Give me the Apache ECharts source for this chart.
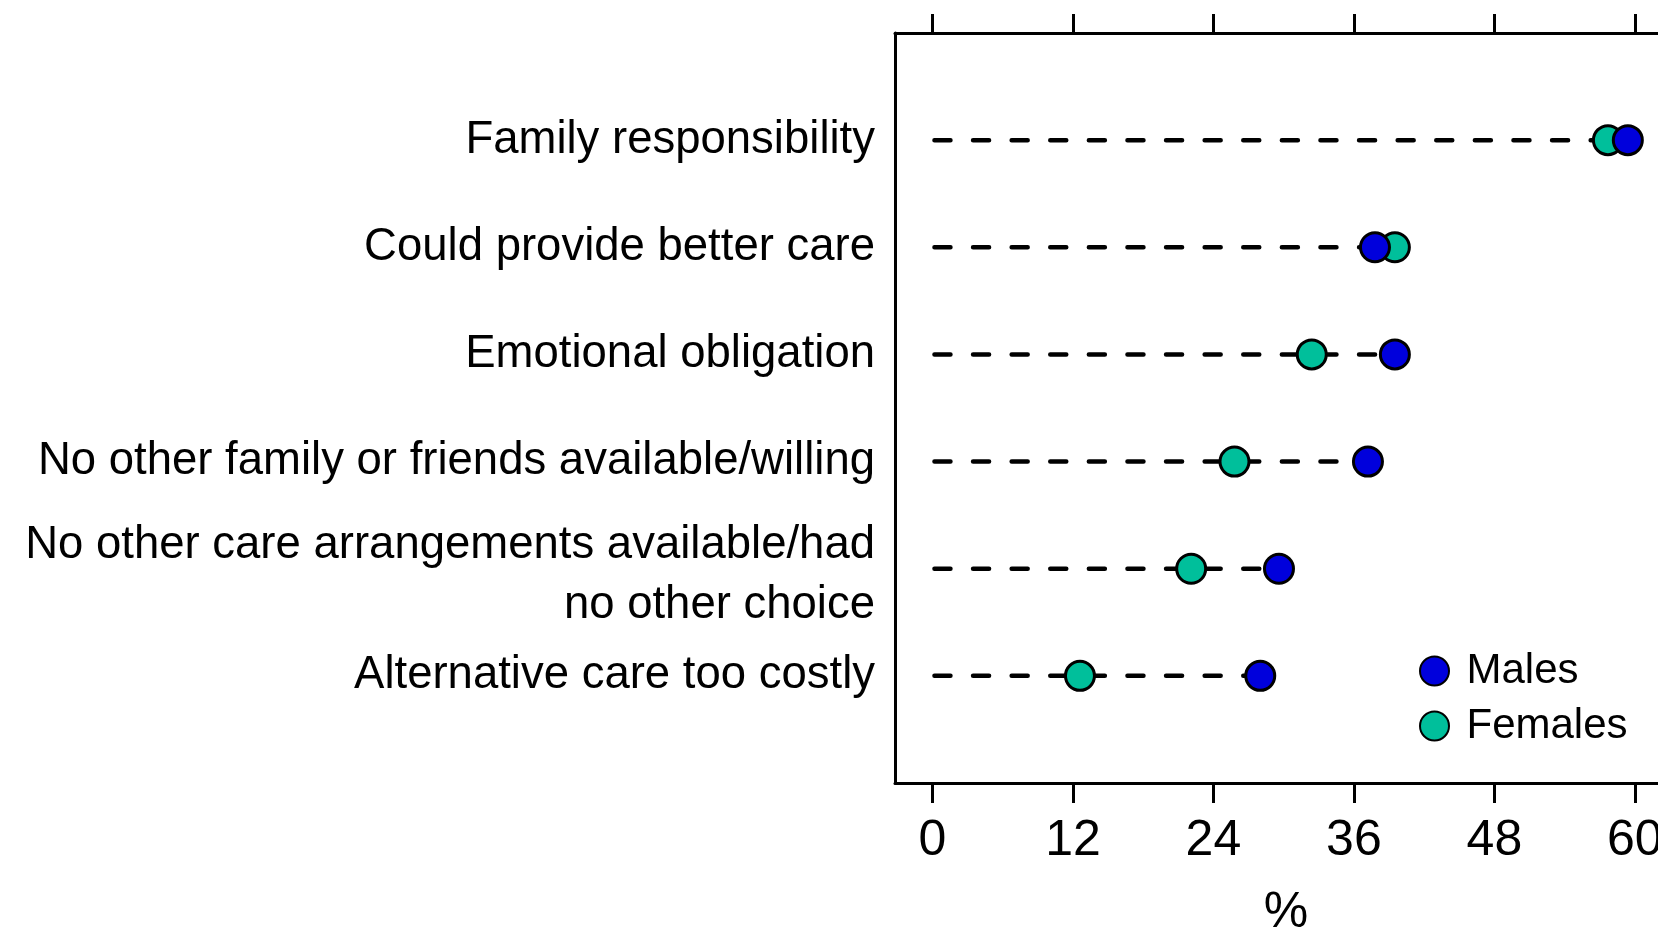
<!DOCTYPE html>
<html>
<head>
<meta charset="utf-8">
<script src="https://cdn.jsdelivr.net/npm/echarts@6/dist/echarts.min.js"></script>
<style>
html,body{margin:0;padding:0;background:#fff;}
#chart{width:1658px;height:931px;}
</style>
</head>
<body>
<div id="chart"></div>
<script>
const categories = [
  'Family responsibility',
  'Could provide better care',
  'Emotional obligation',
  'No other family or friends available/willing',
  'No other care arrangements available/had\nno other choice',
  'Alternative care too costly'
];
const males = [59.4, 37.8, 39.5, 37.2, 29.6, 28.0];
const females = [57.7, 39.5, 32.4, 25.8, 22.1, 12.6];
const xTicks = [0, 12, 24, 36, 48, 60];
const xName = '%';

const BLUE = '#0000dc';
const GREEN = '#00bf9b';
const FONT = "'Liberation Sans', Arial, sans-serif";

const chart = echarts.init(document.getElementById('chart'), null, {renderer: 'canvas'});

const xMin = -3.2, xMax = 63.6;

const lineData = categories.map((c, i) => [Math.max(males[i], females[i]), i + 1]);
const maleData = males.map((v, i) => [v, i + 1]);
const femaleData = females.map((v, i) => [v, i + 1]);

const axisLineStyle = {color: '#000', width: 3};

function yLabel(v) {
  const txt = categories[v - 1];
  if (!txt) return '';
  const lines = txt.split('\n');
  if (lines.length === 1) return '{s|' + txt + '}';
  return '{t|' + lines[0] + '}\n{s|' + lines[1] + '}';
}

chart.setOption({
  animation: false,
  backgroundColor: '#fff',
  grid: {left: 895, right: -19, top: 33, bottom: 148, containLabel: false, outerBoundsMode: 'none'},
  xAxis: [
    {
      type: 'value', position: 'bottom', min: xMin, max: xMax,
      axisLine: {show: true, lineStyle: axisLineStyle, onZero: false},
      axisTick: {show: true, length: 20, lineStyle: {color: '#000', width: 3}, customValues: xTicks},
      axisLabel: {show: true, customValues: xTicks, margin: 33, color: '#000', fontSize: 50, fontFamily: FONT},
      splitLine: {show: false},
      name: xName, nameLocation: 'middle', nameGap: 105,
      nameTextStyle: {color: '#000', fontSize: 50, fontFamily: FONT}
    },
    {
      type: 'value', position: 'top', min: xMin, max: xMax,
      axisLine: {show: true, lineStyle: axisLineStyle, onZero: false},
      axisTick: {show: true, length: 19, lineStyle: {color: '#000', width: 3}, customValues: xTicks},
      axisLabel: {show: false},
      splitLine: {show: false}
    }
  ],
  yAxis: {
    type: 'value', inverse: true, min: 0, max: 7, interval: 1,
    axisLine: {show: true, lineStyle: axisLineStyle, onZero: false},
    axisTick: {show: false},
    splitLine: {show: false},
    axisLabel: {
      margin: 20, color: '#000', fontSize: 45.5, fontFamily: FONT, align: 'right',
      formatter: yLabel,
      rich: {
        s: {fontSize: 45.5, fontFamily: FONT, color: '#000', lineHeight: 59},
        t: {fontSize: 45.5, fontFamily: FONT, color: '#000', lineHeight: 73, verticalAlign: 'top', padding: [20, 0, 0, 0]}
      }
    }
  },
  legend: {
    orient: 'vertical', left: 1419, top: 650, padding: 0,
    itemWidth: 54, itemHeight: 29, itemGap: 13,
    data: ['Males', 'Females'],
    textStyle: {color: '#000', fontSize: 42, fontFamily: FONT},
    icon: 'circle'
  },
  series: [
    {
      type: 'custom', name: 'guide', silent: true, z: 1,
      data: lineData,
      renderItem: function (params, api) {
        const y = api.value(1);
        const p0 = api.coord([0, y]);
        const p1 = api.coord([api.value(0), y]);
        return {
          type: 'line',
          shape: {x1: p0[0] + 2, y1: p0[1], x2: p1[0], y2: p1[1]},
          style: {stroke: '#000', lineWidth: 4.5, lineDash: [16, 22.6], lineCap: 'round', fill: null}
        };
      }
    },
    {
      type: 'scatter', name: 'Females', z: 3,
      symbol: 'circle', symbolSize: 29,
      itemStyle: {color: GREEN, borderColor: '#000', borderWidth: 3, opacity: 1},
      data: femaleData
    },
    {
      type: 'scatter', name: 'Males', z: 4,
      symbol: 'circle', symbolSize: 29,
      itemStyle: {color: BLUE, borderColor: '#000', borderWidth: 3, opacity: 1},
      data: maleData
    }
  ]
});
</script>
</body>
</html>
